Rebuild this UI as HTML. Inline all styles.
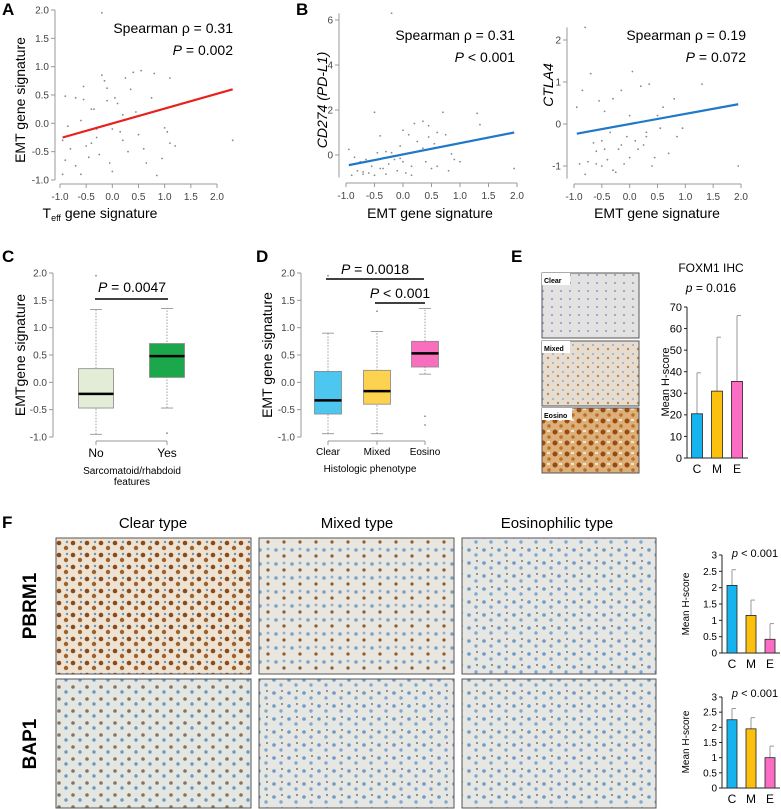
<!DOCTYPE html>
<html><head><meta charset="utf-8"><style>
body{margin:0;background:#fff}
svg{display:block;font-family:"Liberation Sans",Arial,sans-serif}
.t{font-size:10px;fill:#444}
.ax{stroke:#999;stroke-width:1;fill:none}
</style></head><body>
<svg id="fig" width="781" height="809" viewBox="0 0 781 809">
<defs>
<pattern id="pBrown" width="14" height="12" patternUnits="userSpaceOnUse"><rect width="14" height="12" fill="#eee3d2"/><circle cx="3" cy="3" r="2.3" fill="#8a4a1c"/><circle cx="10" cy="8" r="2.2" fill="#a0602a"/><circle cx="11" cy="2" r="1.2" fill="#6a90b0"/></pattern>
<pattern id="pMixed" width="16" height="14" patternUnits="userSpaceOnUse"><rect width="16" height="14" fill="#e8e6df"/><circle cx="4" cy="4" r="1.8" fill="#7aa3c8"/><circle cx="12" cy="10" r="1.6" fill="#8a5a30"/><circle cx="12" cy="3" r="1.4" fill="#88aed0"/></pattern>
<pattern id="pBlue" width="15" height="13" patternUnits="userSpaceOnUse"><rect width="15" height="13" fill="#e6e6e2"/><circle cx="4" cy="4" r="1.8" fill="#6d9cc8"/><circle cx="11" cy="9" r="1.7" fill="#7fa9d0"/><circle cx="12" cy="2" r="0.9" fill="#555"/></pattern>
<pattern id="pBap1c" width="14" height="12" patternUnits="userSpaceOnUse"><rect width="14" height="12" fill="#e4e6e2"/><circle cx="3" cy="3" r="1.8" fill="#8a7460"/><circle cx="10" cy="8" r="1.7" fill="#6a98c0"/></pattern>
<pattern id="pEhc" width="9" height="8" patternUnits="userSpaceOnUse"><rect width="9" height="8" fill="#e4e2e0"/><circle cx="3" cy="3" r="1.1" fill="#8fa6d0"/></pattern>
<pattern id="pEmx" width="10" height="9" patternUnits="userSpaceOnUse"><rect width="10" height="9" fill="#e6ddd0"/><circle cx="3" cy="3" r="1" fill="#9aa8cc"/><circle cx="8" cy="7" r="1.2" fill="#c08a50"/></pattern>
<pattern id="pEeo" width="12" height="11" patternUnits="userSpaceOnUse"><rect width="12" height="11" fill="#ddb07a"/><circle cx="3" cy="3" r="2.5" fill="#9a4a10"/><circle cx="9" cy="8" r="1.8" fill="#b8702a"/><rect x="7" y="1" width="3" height="2" fill="#f0e4d0"/></pattern>
</defs>

<!-- Panel labels -->
<text x="2" y="15" font-size="17" font-weight="bold">A</text>
<text x="296" y="15" font-size="17" font-weight="bold">B</text>
<text x="2" y="262" font-size="17" font-weight="bold">C</text>
<text x="256" y="262" font-size="17" font-weight="bold">D</text>
<text x="511" y="262" font-size="17" font-weight="bold">E</text>
<text x="2" y="528" font-size="17" font-weight="bold">F</text>

<g id="gA"></g>
<g id="gB1"></g>
<g id="gB2"></g>
<g id="gC"></g>
<g id="gD"></g>
<g id="gE"></g>
<g id="gF1"></g>
<g id="gF2"></g>

<!-- Titles / labels -->
<text x="233" y="33" font-size="14" text-anchor="end">Spearman  ρ = 0.31</text>
<text x="233" y="55" font-size="14" text-anchor="end"><tspan font-style="italic">P</tspan> = 0.002</text>
<text transform="translate(25,100) rotate(-90)" font-size="14" text-anchor="middle">EMT gene signature</text>
<text x="100" y="218" font-size="14" text-anchor="middle">T<tspan font-size="9" dy="3">eff</tspan><tspan dy="-3"> gene signature</tspan></text>

<text x="515" y="40" font-size="14" text-anchor="end">Spearman  ρ = 0.31</text>
<text x="515" y="62" font-size="14" text-anchor="end"><tspan font-style="italic">P</tspan> &lt; 0.001</text>
<text transform="translate(327,100) rotate(-90)" font-size="14" font-style="italic" text-anchor="middle">CD274 (PD-L1)</text>
<text x="430" y="218" font-size="14" text-anchor="middle">EMT gene signature</text>

<text x="746" y="40" font-size="14" text-anchor="end">Spearman  ρ = 0.19</text>
<text x="746" y="62" font-size="14" text-anchor="end"><tspan font-style="italic">P</tspan> = 0.072</text>
<text transform="translate(553,85) rotate(-90)" font-size="14" font-style="italic" text-anchor="middle">CTLA4</text>
<text x="657" y="218" font-size="14" text-anchor="middle">EMT gene signature</text>

<text transform="translate(25,355) rotate(-90)" font-size="14" text-anchor="middle">EMTgene signature</text>
<text x="132" y="292" font-size="14" text-anchor="middle"><tspan font-style="italic">P</tspan> = 0.0047</text>
<text x="132" y="474" font-size="10" text-anchor="middle">Sarcomatoid/rhabdoid</text>
<text x="132" y="485" font-size="10" text-anchor="middle">features</text>

<text transform="translate(272,355) rotate(-90)" font-size="14" text-anchor="middle">EMT gene signature</text>
<text x="375" y="274" font-size="14" text-anchor="middle"><tspan font-style="italic">P</tspan> = 0.0018</text>
<text x="400" y="298" font-size="14" text-anchor="middle"><tspan font-style="italic">P</tspan> &lt; 0.001</text>
<text x="370" y="472" font-size="10" text-anchor="middle">Histologic phenotype</text>

<!-- E images -->
<g>
<rect x="542" y="273" width="97" height="65" fill="url(#pEhc)" stroke="#555"/>
<rect x="542" y="273" width="28" height="12" fill="#fff"/>
<text x="544" y="283" font-size="7" font-weight="bold">Clear</text>
<rect x="542" y="341" width="97" height="65" fill="url(#pEmx)" stroke="#555"/>
<rect x="542" y="341" width="28" height="12" fill="#fff"/>
<text x="544" y="351" font-size="7" font-weight="bold">Mixed</text>
<rect x="542" y="408" width="97" height="65" fill="url(#pEeo)" stroke="#555"/>
<rect x="542" y="408" width="30" height="12" fill="#fff"/>
<text x="544" y="418" font-size="7" font-weight="bold">Eosino</text>
</g>
<text x="711" y="272" font-size="12" text-anchor="middle">FOXM1 IHC</text>
<text x="711" y="292" font-size="12" text-anchor="middle"><tspan font-style="italic">p</tspan> = 0.016</text>
<text transform="translate(669,382) rotate(-90)" font-size="11" text-anchor="middle">Mean H-score</text>

<!-- F -->
<text x="153" y="528" font-size="15" text-anchor="middle">Clear type</text>
<text x="357" y="528" font-size="15" text-anchor="middle">Mixed type</text>
<text x="557" y="528" font-size="15" text-anchor="middle">Eosinophilic type</text>
<text transform="translate(36,606) rotate(-90)" font-size="19" font-weight="bold" text-anchor="middle">PBRM1</text>
<text transform="translate(36,744) rotate(-90)" font-size="19" font-weight="bold" text-anchor="middle">BAP1</text>
<rect x="56" y="538" width="195" height="136" fill="url(#pBrown)" stroke="#555"/>
<rect x="259" y="538" width="195" height="136" fill="url(#pMixed)" stroke="#555"/>
<rect x="462" y="538" width="194" height="136" fill="url(#pBlue)" stroke="#555"/>
<rect x="56" y="679" width="195" height="129" fill="url(#pBap1c)" stroke="#555"/>
<rect x="259" y="679" width="195" height="129" fill="url(#pBlue)" stroke="#555"/>
<rect x="462" y="679" width="194" height="129" fill="url(#pBlue)" stroke="#555"/>
<text x="755" y="557" font-size="11" text-anchor="middle"><tspan font-style="italic">p</tspan> &lt; 0.001</text>
<text transform="translate(689,604) rotate(-90)" font-size="10" text-anchor="middle">Mean H-score</text>
<text x="755" y="697" font-size="11" text-anchor="middle"><tspan font-style="italic">p</tspan> &lt; 0.001</text>
<text transform="translate(689,742) rotate(-90)" font-size="10" text-anchor="middle">Mean H-score</text>
</svg>
<script>
// ---- Data ----
const aX=[-0.95,-0.9,-0.85,-0.9,-0.95,-0.8,-0.7,-0.6,-0.55,-0.55,-0.5,-0.45,-0.4,-0.35,-0.3,-0.25,-0.2,-0.2,-0.15,-0.1,-0.1,-0.05,0.0,0.05,0.1,0.15,0.2,0.25,0.3,0.35,0.4,0.45,0.55,0.6,0.65,0.75,0.8,0.85,0.95,1.0,1.05,1.1,1.1,1.2,2.3,-0.6,0.2,-0.3,0.0,0.5,-0.7,-0.4];
const aY=[-0.3,0.48,-0.05,-0.65,-0.9,-0.45,0.45,0.05,0.65,0.42,-0.4,-0.6,0.25,0.25,-0.1,-0.55,1.95,0.85,0.75,0.62,0.4,-0.7,-0.85,0.45,0.35,-0.15,0.15,0.8,-0.5,0.6,0.9,0.2,0.93,-0.45,-0.7,0.45,0.88,-0.92,-0.62,-0.08,-0.15,0.8,-0.35,-0.4,-0.3,-0.9,-0.3,-0.25,-0.1,-0.2,-0.75,-0.35];
const aFit=[-0.25,0.6];
const b1X=[-0.95,-0.9,-0.85,-0.8,-0.75,-0.7,-0.65,-0.6,-0.55,-0.5,-0.5,-0.45,-0.4,-0.35,-0.3,-0.3,-0.25,-0.2,-0.15,-0.1,-0.05,0.0,0.0,0.05,0.1,0.15,0.2,0.25,0.3,0.35,0.4,0.45,0.5,0.55,0.6,0.7,0.75,0.8,0.9,1.0,1.3,1.35,1.95,-0.4,-0.05,0.15,0.35,0.6,0.85,-0.7,-0.2,0.45];
const b1Y=[0.25,-0.9,-0.1,-0.7,-0.3,-0.75,-0.2,-0.8,-0.5,1.9,-0.9,0.1,0.85,-0.6,0.15,-0.85,-0.4,6.3,-0.2,-0.7,0.4,1.1,-0.3,-0.8,0.9,-0.5,1.4,0.6,0.2,1.5,-0.3,1.3,-0.6,0.5,1.0,1.9,0.9,-0.7,-0.2,-0.3,1.85,1.35,-0.6,-0.6,-0.15,-0.9,0.3,-0.5,0.05,-0.85,0.1,0.8];
const b1Fit=[-0.45,1.0];
const b2X=[-0.95,-0.9,-0.85,-0.8,-0.75,-0.7,-0.65,-0.6,-0.55,-0.5,-0.5,-0.45,-0.4,-0.35,-0.3,-0.25,-0.2,-0.15,-0.1,-0.05,0.0,0.05,0.1,0.15,0.2,0.25,0.3,0.35,0.4,0.45,0.5,0.6,0.7,0.8,0.85,0.95,1.3,1.95,-0.6,-0.3,0.0,0.3,-0.45,-0.8,0.55,-0.15];
const b2Y=[0.4,-0.95,0.8,2.3,-0.9,1.2,-0.45,-0.95,0.55,-0.4,-1.0,-0.6,-0.85,-0.2,0.6,-1.15,-0.6,0.8,-0.95,-0.3,0.2,1.25,-0.4,-0.6,0.9,-0.5,-0.3,0.95,-1.0,-0.8,0.2,0.4,-0.7,0.6,-0.3,-0.1,0.95,-1.0,-0.65,-1.1,-0.8,-0.2,0.3,-1.2,-0.1,-0.5];
const b2Fit=[-0.23,0.47];
const cCats=["No","Yes"];
const cLow=[-0.95,-0.47],cQ1=[-0.47,0.09],cMed=[-0.21,0.48],cQ3=[0.25,0.71],cHigh=[1.33,1.35];
const cOutliers=[[1.95],[-0.93]];
const dCats=["Clear","Mixed","Eosino"];
const dLow=[-0.94,-0.94,0.15],dQ1=[-0.58,-0.4,0.28],dMed=[-0.33,-0.16,0.53],dQ3=[0.2,0.22,0.75],dHigh=[0.9,0.93,1.35];
const dOutliers=[[1.95],[1.3],[-0.62,-0.78]];
const barCats=["C","M","E"];
const eMean=[20.5,31,35.5],eErr=[39.5,56,66];
const f1Mean=[2.07,1.15,0.42],f1Err=[2.55,1.62,0.9];
const f2Mean=[2.25,1.95,1.0],f2Err=[2.62,2.32,1.38];
const scatterTicksA=["-1.0","-0.5","0.0","0.5","1.0","1.5","2.0"];
const boxTicks=["-1.0","-0.5","0.0","0.5","1.0","1.5","2.0"];

const NS="http://www.w3.org/2000/svg";
function mk(parent,tag,attrs,txt){const e=document.createElementNS(NS,tag);for(const k in attrs)e.setAttribute(k,attrs[k]);if(txt!==undefined)e.textContent=txt;parent.appendChild(e);return e;}
function lin(d0,d1,r0,r1){return v=>r0+(v-d0)/(d1-d0)*(r1-r0);}

function scatter(g,xs,ys,fit,sx,sy,xTicks,yTicks,yLabels,axX,axY,xr,yr,color,name){
  let e=mk(g,'line',{x1:axX,y1:sy(yr[0]),x2:axX,y2:sy(yr[1]),class:'ax'});
  
  
  yTicks.forEach((t,i)=>{
    let l=mk(g,'line',{x1:axX-4,x2:axX,y1:sy(t),y2:sy(t),class:'ax'});
    
    
    let tx=mk(g,'text',{x:axX-6,y:sy(t)+3.5,'text-anchor':'end',class:'t'},yLabels[i]);
    
    
  });
  e=mk(g,'line',{x1:sx(xr[0]),y1:axY,x2:sx(xr[1]),y2:axY,class:'ax'});
  
  
  xTicks.forEach(t=>{
    let l=mk(g,'line',{x1:sx(+t),x2:sx(+t),y1:axY,y2:axY+4,class:'ax'});
    
    
    let tx=mk(g,'text',{x:sx(+t),y:axY+16,'text-anchor':'middle',class:'t'},t);
    
    
  });
  xs.forEach((x,i)=>{
    let p=mk(g,'circle',{cx:sx(x),cy:sy(ys[i]),r:0.9,fill:'#888'});
    
    
  });
  let xmin=Math.min(...xs),xmax=Math.max(...xs);
  let fl=mk(g,'line',{x1:sx(xmin),y1:sy(fit[0]),x2:sx(xmax),y2:sy(fit[1]),stroke:color,'stroke-width':2.2});
  
  
}
// A
scatter(document.getElementById('gA'),aX,aY,aFit,lin(-1,2,60,217),lin(-1,2,180,10),scatterTicksA,[-1,-0.5,0,0.5,1,1.5,2],boxTicks,55,184,[-1,2],[-1,2],'#e8211c','panel-a');
// B1
scatter(document.getElementById('gB1'),b1X,b1Y,b1Fit,lin(-1,2,346,517),lin(0,2,155,110),["-1.0","-0.5","0.0","0.5","1.0","1.5","2.0"],[0,2,4,6],["0","2","4","6"],339,183,[-1,2],[-1,6.3],'#1f78c8','panel-b-left');
// B2
scatter(document.getElementById('gB2'),b2X,b2Y,b2Fit,lin(-1,2,574,741),lin(0,1,124,82),["-1.0","-0.5","0.0","0.5","1.0","1.5","2.0"],[-1,0,1,2],["-1","0","1","2"],567,184,[-1,2],[-1.3,2.3],'#1f78c8','panel-b-right');

function boxplot(g,cats,lo,q1,md,q3,hi,outs,cx,bw,sy,axX,colors,name){
  let e=mk(g,'line',{x1:axX,y1:sy(-1),x2:axX,y2:sy(2),class:'ax'});
  
  
  boxTicks.forEach(t=>{
    let l=mk(g,'line',{x1:axX-4,x2:axX,y1:sy(+t),y2:sy(+t),class:'ax'});
    
    
    let tx=mk(g,'text',{x:axX-6,y:sy(+t)+3.5,'text-anchor':'end',class:'t'},t);
    
    
  });
  const bY=sy(-1)+4;
  e=mk(g,'line',{x1:cx[0],x2:cx[cx.length-1],y1:bY,y2:bY,class:'ax'});
  
  
  cats.forEach((c,i)=>{
    let l=mk(g,'line',{x1:cx[i],x2:cx[i],y1:bY,y2:bY+4,class:'ax'});
    
    
    let tx=mk(g,'text',{x:cx[i],y:bY+(cats.length>2?14:16),'text-anchor':'middle','font-size':cats.length>2?10:12},c);
    
    
    let w=mk(g,'line',{x1:cx[i],x2:cx[i],y1:sy(lo[i]),y2:sy(hi[i]),stroke:'#888','stroke-dasharray':'1.5,1.5','stroke-width':0.8});
    
    
    [lo[i],hi[i]].forEach(v=>{
      let cap=mk(g,'line',{x1:cx[i]-6,x2:cx[i]+6,y1:sy(v),y2:sy(v),stroke:'#888','stroke-width':0.8});
      
      
    });
    let b=mk(g,'rect',{x:cx[i]-bw/2,y:sy(q3[i]),width:bw,height:sy(q1[i])-sy(q3[i]),fill:colors[i],stroke:'#888','stroke-width':0.8});
    
    
    let m=mk(g,'line',{x1:cx[i]-bw/2,x2:cx[i]+bw/2,y1:sy(md[i]),y2:sy(md[i]),stroke:'#000','stroke-width':2.5});
    
    
    outs[i].forEach(v=>{
      let o=mk(g,'circle',{cx:cx[i],cy:sy(v),r:0.9,fill:'#888'});
      
      
    });
  });
}
const syBox=lin(-1,2,437,273);
boxplot(document.getElementById('gC'),cCats,cLow,cQ1,cMed,cQ3,cHigh,cOutliers,[96,167],35,syBox,53,['#e2ecd6','#1aa84a'],'panel-c');
boxplot(document.getElementById('gD'),dCats,dLow,dQ1,dMed,dQ3,dHigh,dOutliers,[328,377,425],27,syBox,301,['#4dc6f0','#fdd24e','#f86fbd'],'panel-d');
(function(){
  const g=document.getElementById('gC');
  let s=mk(g,'line',{x1:95,x2:168,y1:299,y2:299,stroke:'#000','stroke-width':1.5});
  
  
  const gd=document.getElementById('gD');
  s=mk(gd,'line',{x1:326,x2:424,y1:279,y2:279,stroke:'#000','stroke-width':1.5});
  
  
  s=mk(gd,'line',{x1:375,x2:425,y1:303,y2:303,stroke:'#000','stroke-width':1.5});
  
  
})();

function bars(g,means,errs,ticks,tickLabels,sy,axX,cx,bw,fs,name){
  const y0=sy(0);
  let e=mk(g,'line',{x1:axX,y1:sy(ticks[ticks.length-1]),x2:axX,y2:y0,stroke:'#222'});
  
  
  e=mk(g,'line',{x1:axX,y1:y0,x2:cx[2]+bw,y2:y0,stroke:'#222'});
  
  
  ticks.forEach((t,i)=>{
    let l=mk(g,'line',{x1:axX-3,x2:axX,y1:sy(t),y2:sy(t),stroke:'#222'});
    
    
    let tx=mk(g,'text',{x:axX-5,y:sy(t)+fs*0.35,'text-anchor':'end','font-size':fs},tickLabels[i]);
    
    
  });
  const cols=['#16b4ee','#fcc10f','#fc6cc4'];
  means.forEach((m,i)=>{
    let w=mk(g,'line',{x1:cx[i],x2:cx[i],y1:sy(m),y2:sy(errs[i]),stroke:'#999','stroke-width':1});
    
    
    let c=mk(g,'line',{x1:cx[i],x2:cx[i]+4,y1:sy(errs[i]),y2:sy(errs[i]),stroke:'#999'});
    
    
    let b=mk(g,'rect',{x:cx[i]-bw/2,y:sy(m),width:bw,height:y0-sy(m),fill:cols[i],stroke:'#222','stroke-width':0.8});
    
    
    let tx=mk(g,'text',{x:cx[i],y:y0+15,'text-anchor':'middle','font-size':12},barCats[i]);
    
    
  });
}
bars(document.getElementById('gE'),eMean,eErr,[0,10,20,30,40,50,60,70],["0","10","20","30","40","50","60","70"],lin(0,70,458,307),687,[697,717,737],11,11,'panel-e');
bars(document.getElementById('gF1'),f1Mean,f1Err,[0,0.5,1,1.5,2,2.5,3],["0","0.5","1","1.5","2","2.5","3"],lin(0,3,653,555),722,[732,751,770],10,10,'panel-f-pbrm1');
bars(document.getElementById('gF2'),f2Mean,f2Err,[0,0.5,1,1.5,2,2.5,3],["0","0.5","1","1.5","2","2.5","3"],lin(0,3,788,697),722,[732,751,770],10,10,'panel-f-bap1');
</script>
</body></html>
